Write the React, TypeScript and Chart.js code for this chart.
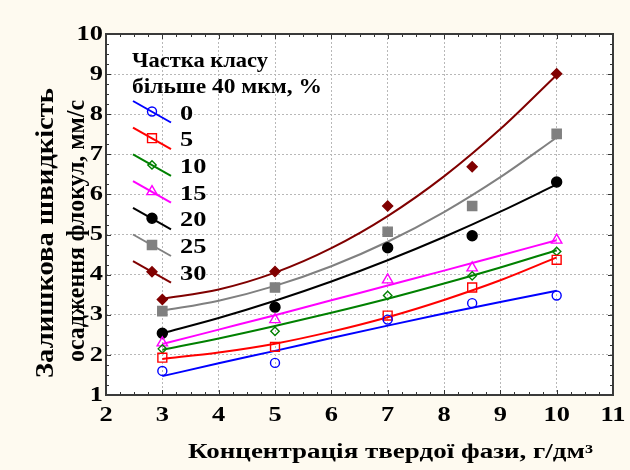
import React, { useEffect, useRef } from 'react';
import { Chart, registerables } from 'chart.js';

Chart.register(...registerables);

// ---------- data ----------
const classLabels = ['0', '5', '10', '15', '20', '25', '30'];
const xObs = [3, 5, 7, 8.5, 10];
const obs0 = [1.6, 1.8, 2.88, 3.29, 3.48];
const obs5 = [1.93, 2.2, 2.98, 3.68, 4.37];
const obs10 = [2.15, 2.59, 3.48, 3.97, 4.58];
const obs15 = [2.3, 2.88, 3.87, 4.17, 4.86];
const obs20 = [2.54, 3.19, 4.67, 4.97, 6.31];
const obs25 = [3.09, 3.68, 5.07, 5.71, 7.51];
const obs30 = [3.38, 4.08, 5.71, 6.69, 9.01];

const xFit = [3, 4, 5, 6, 7, 8, 9, 10];
const fit0 = [1.47, 1.79, 2.1, 2.42, 2.73, 3.03, 3.32, 3.6];
const fit5 = [1.9, 2.06, 2.28, 2.58, 2.94, 3.37, 3.86, 4.43];
const fit10 = [2.13, 2.41, 2.72, 3.05, 3.4, 3.78, 4.18, 4.61];
const fit15 = [2.27, 2.63, 2.99, 3.36, 3.73, 4.1, 4.48, 4.86];
const fit20 = [2.54, 2.92, 3.35, 3.83, 4.36, 4.94, 5.57, 6.25];
const fit25 = [3.1, 3.35, 3.72, 4.21, 4.82, 5.56, 6.43, 7.42];
const fit30 = [3.4, 3.63, 4.05, 4.66, 5.46, 6.45, 7.63, 8.98];

const xTickLabels = ['2', '3', '4', '5', '6', '7', '8', '9', '10', '11'];
const yTickLabels = ['1', '2', '3', '4', '5', '6', '7', '8', '9', '10'];

const legendTitle = ['Частка класу', 'більше 40 мкм, %'];
const xTitle = 'Концентрація твердої фази, г/дм³';
const yTitle = ['Залишкова швидкість', 'осадження флокул, мм/с'];

const observed = [obs0, obs5, obs10, obs15, obs20, obs25, obs30];
const fitted = [fit0, fit5, fit10, fit15, fit20, fit25, fit30];

// ---------- styles ----------
const colors = ['#0000ff', '#ff0000', '#008000', '#ff00ff', '#000000', '#808080', '#800000'];
const markers = [
  { style: 'circle', r: 4.5, fill: false },
  { style: 'rect', r: 6.3, fill: false },
  { style: 'rectRot', r: 4.2, fill: false },
  { style: 'triangle', r: 6, fill: false },
  { style: 'circle', r: 5, fill: true },
  { style: 'rect', r: 6.5, fill: true },
  { style: 'rectRot', r: 5, fill: true },
];
const BG = '#fefaf0';
const FONT = '"Liberation Serif", "Times New Roman", serif';

function drawText(
  ctx: CanvasRenderingContext2D,
  text: string,
  x: number,
  y: number,
  size: number,
  align: CanvasTextAlign,
  opts: { width?: number; sx?: number; rotate?: boolean } = {}
) {
  ctx.save();
  ctx.font = `bold ${size}px ${FONT}`;
  const w = ctx.measureText(text).width;
  const s = opts.width ? opts.width / w : opts.sx ?? 1;
  ctx.translate(x, y);
  if (opts.rotate) ctx.rotate(-Math.PI / 2);
  ctx.scale(s, 1);
  ctx.fillStyle = '#000';
  ctx.textBaseline = 'middle';
  ctx.textAlign = align;
  ctx.fillText(text, 0, 0);
  ctx.restore();
}

function drawMarker(ctx: CanvasRenderingContext2D, m: any, color: string, x: number, y: number) {
  ctx.save();
  ctx.beginPath();
  const r = m.r;
  if (m.style === 'circle') {
    ctx.arc(x, y, r, 0, Math.PI * 2);
  } else if (m.style === 'rect') {
    const s = r * Math.SQRT1_2;
    ctx.rect(x - s, y - s, 2 * s, 2 * s);
  } else if (m.style === 'rectRot') {
    ctx.moveTo(x, y - r);
    ctx.lineTo(x + r, y);
    ctx.lineTo(x, y + r);
    ctx.lineTo(x - r, y);
    ctx.closePath();
  } else if (m.style === 'triangle') {
    for (let k = 0; k < 3; k++) {
      const a = (k * 2 * Math.PI) / 3;
      const px = x + Math.sin(a) * r;
      const py = y - Math.cos(a) * r;
      if (k === 0) ctx.moveTo(px, py);
      else ctx.lineTo(px, py);
    }
    ctx.closePath();
  }
  ctx.lineWidth = 1.4;
  ctx.strokeStyle = color;
  if (m.fill) {
    ctx.fillStyle = color;
    ctx.fill();
  }
  ctx.stroke();
  ctx.restore();
}

const customPlugin = {
  id: 'customPlugin',
  beforeDraw(chart: any) {
    const { ctx, chartArea: a, width, height } = chart;
    ctx.save();
    ctx.fillStyle = BG;
    ctx.fillRect(0, 0, width, height);
    ctx.fillStyle = '#ffffff';
    ctx.fillRect(a.left, a.top, a.right - a.left, a.bottom - a.top);
    ctx.restore();
  },
  afterDraw(chart: any) {
    const { ctx, chartArea: a } = chart;
    const xs = chart.scales.x;
    const ys = chart.scales.y;

    // inward ticks on all four sides
    ctx.save();
    ctx.strokeStyle = '#333';
    ctx.lineWidth = 1;
    ctx.beginPath();
    for (let v = xs.min; v <= xs.max + 1e-9; v += 0.25) {
      const px = Math.round(xs.getPixelForValue(v)) + 0.5;
      const len = Math.abs(v - Math.round(v)) < 1e-9 ? 5 : 3;
      ctx.moveTo(px, a.bottom);
      ctx.lineTo(px, a.bottom - len);
      ctx.moveTo(px, a.top);
      ctx.lineTo(px, a.top + len);
    }
    for (let v = ys.min; v <= ys.max + 1e-9; v += 0.25) {
      const py = Math.round(ys.getPixelForValue(v)) + 0.5;
      const len = Math.abs(v - Math.round(v)) < 1e-9 ? 5 : 3;
      ctx.moveTo(a.left, py);
      ctx.lineTo(a.left + len, py);
      ctx.moveTo(a.right, py);
      ctx.lineTo(a.right - len, py);
    }
    ctx.stroke();
    // frame
    ctx.lineWidth = 2;
    ctx.strokeStyle = '#3a3a3a';
    ctx.strokeRect(a.left, a.top, a.right - a.left, a.bottom - a.top);
    ctx.restore();

    // tick labels
    xTickLabels.forEach((t) => {
      drawText(ctx, t, xs.getPixelForValue(parseFloat(t)), a.bottom + 20, 22, 'center', { sx: 1.2 });
    });
    yTickLabels.forEach((t) => {
      drawText(ctx, t, a.left - 3, ys.getPixelForValue(parseFloat(t)), 22, 'right', { sx: 1.2 });
    });

    // axis titles
    drawText(ctx, xTitle, (a.left + a.right) / 2 + 31, 453, 20, 'center', { width: 405 });
    drawText(ctx, yTitle[0], 47, 233, 25, 'center', { width: 290, rotate: true });
    drawText(ctx, yTitle[1], 78, 231, 25, 'center', { width: 262, rotate: true });

    // legend
    drawText(ctx, legendTitle[0], a.left + 26, 62, 21, 'left', { width: 136 });
    drawText(ctx, legendTitle[1], a.left + 26, 88, 21, 'left', { width: 190 });
    classLabels.forEach((lab, i) => {
      const cy = 114 + i * 26.7;
      ctx.save();
      ctx.strokeStyle = colors[i];
      ctx.lineWidth = 2;
      ctx.beginPath();
      ctx.moveTo(a.left + 27, cy - 13);
      ctx.lineTo(a.left + 65, cy + 8.5);
      ctx.stroke();
      ctx.restore();
      drawMarker(ctx, markers[i], colors[i], a.left + 46, cy - 2.5);
      drawText(ctx, lab, a.left + 74, cy, 22, 'left', { sx: 1.2 });
    });
  },
};

export default function App() {
  const canvasRef = useRef<HTMLCanvasElement | null>(null);

  useEffect(() => {
    document.body.style.margin = '0';
    const canvas = canvasRef.current;
    if (!canvas) return;

    const datasets: any[] = [];
    classLabels.forEach((lab, i) => {
      datasets.push({
        type: 'line',
        label: lab + ' fit',
        data: xFit.map((x, k) => ({ x, y: fitted[i][k] })),
        borderColor: colors[i],
        borderWidth: 2,
        pointRadius: 0,
        fill: false,
        cubicInterpolationMode: 'monotone',
        order: 2,
      });
    });
    classLabels.forEach((lab, i) => {
      const m = markers[i];
      datasets.push({
        type: 'scatter',
        label: lab,
        data: xObs.map((x, k) => ({ x, y: observed[i][k] })),
        showLine: false,
        pointStyle: m.style,
        pointRadius: m.r,
        pointBorderWidth: 1.4,
        borderColor: colors[i],
        backgroundColor: m.fill ? colors[i] : 'rgba(0,0,0,0)',
        order: 1,
      });
    });

    const chart = new Chart(canvas, {
      type: 'scatter',
      data: { datasets },
      options: {
        animation: false,
        responsive: true,
        maintainAspectRatio: false,
        events: [],
        layout: { padding: { top: 34, right: 17, left: 0, bottom: 0 } },
        plugins: { legend: { display: false }, tooltip: { enabled: false } },
        scales: {
          x: {
            type: 'linear',
            min: 2,
            max: 11,
            ticks: { display: false, stepSize: 1 },
            grid: { color: '#b8b8b8', lineWidth: 1, drawTicks: false },
            border: { display: false, dash: [2, 2] },
            afterFit: (s: any) => {
              s.height = 75;
            },
          },
          y: {
            type: 'linear',
            min: 1,
            max: 10,
            ticks: { display: false, stepSize: 1 },
            grid: { color: '#b8b8b8', lineWidth: 1, drawTicks: false },
            border: { display: false, dash: [2, 2] },
            afterFit: (s: any) => {
              s.width = 106;
            },
          },
        },
      } as any,
      plugins: [customPlugin],
    });

    return () => chart.destroy();
  }, []);

  return (
    <div style={{ width: 630, height: 470, position: 'relative' }}>
      <canvas ref={canvasRef} />
    </div>
  );
}
